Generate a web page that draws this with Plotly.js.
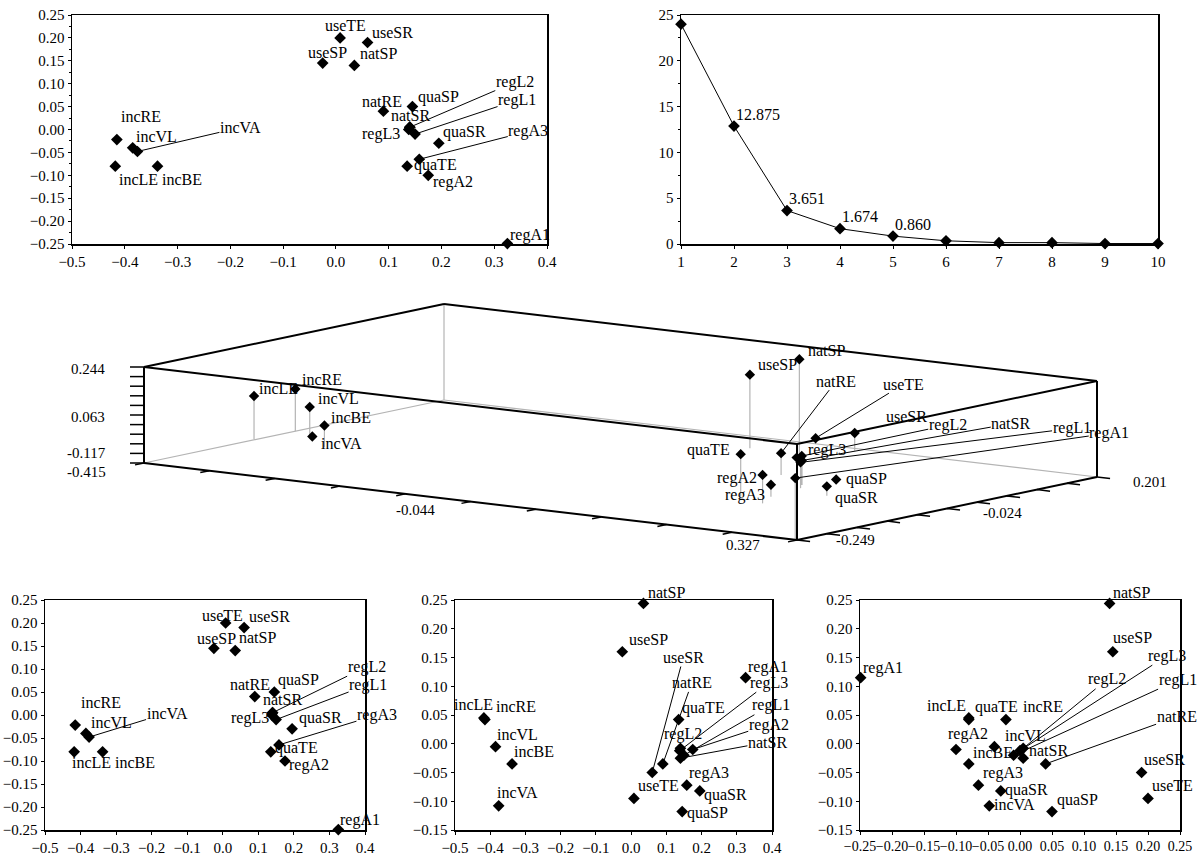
<!DOCTYPE html>
<html>
<head>
<meta charset="utf-8">
<script src="https://cdn.plot.ly/plotly-3.0.1.min.js"></script>
<style>html,body{margin:0;padding:0;background:#fff}#chart{width:1200px;height:856px}</style>
</head>
<body>
<div id="chart"></div>
<script>
// ---------------- DATA ----------------
const names = ['incRE','incVL','incVA','incLE','incBE','useTE','useSR','useSP','natSP','natRE','natSR','quaSP','quaSR','quaTE','regL1','regL2','regL3','regA1','regA2','regA3'];
const dim1 = [-0.415,-0.385,-0.376,-0.418,-0.338, 0.008,0.060,-0.025,0.035,0.090,0.140,0.145,0.195,0.135,0.150,0.140,0.138,0.325,0.175,0.158];
const dim2 = [-0.022,-0.040,-0.048,-0.080,-0.080, 0.200,0.190,0.145,0.140,0.040,0.005,0.050,-0.030,-0.080,-0.010,0.005,0.000,-0.249,-0.100,-0.065];
const dim3 = [0.042,-0.005,-0.108,0.045,-0.035,-0.095,-0.050,0.160,0.244,-0.035,-0.025,-0.118,-0.082,0.042,-0.020,-0.008,-0.012,0.115,-0.010,-0.072];

const components = [1,2,3,4,5,6,7,8,9,10];
const eigenvalues = [24.0,12.875,3.651,1.674,0.860,0.35,0.15,0.15,0.05,0.05];
const eigenLabels = ['','12.875','3.651','1.674','0.860','','','','',''];

const d1Ticks = [-0.415,-0.044,0.327];
const d2Ticks = [-0.249,-0.024,0.201];
const d3Ticks = [-0.117,0.063,0.244];

// ---------------- STYLE / LAYOUT CONFIG ----------------
const FONT = {family:'Liberation Serif, Times New Roman, serif', size:16, color:'#000'};
const TFONT = {family:'Liberation Serif, Times New Roman, serif', size:15, color:'#000'};
const BOX = {ox:144, oy:463, X:[653,77], Y:[300,-63], Z:[0,-96]};

// label offsets [dx, dy(px, down positive), leader]
const offTL = {useTE:[5,-12],useSR:[25,-10],useSP:[5,-11],natSP:[24,-12],natRE:[-1,-10],quaSP:[26,-10],natSR:[1,-12],regL3:[-28,4],
  regL2:[105,-45,1],regL1:[102,-34,1],regA3:[109,-28,1],quaSR:[26,-11],quaTE:[28,-1],regA2:[25,7],regA1:[23,-9],
  incRE:[24,-23],incVL:[24,-11],incVA:[103,-24,1],incLE:[23,13],incBE:[24,13]};
const offBL = {regL2:[94,-46,1],regL1:[92,-35,1],regA3:[98,-30,1],regA1:[22,-10],quaSP:[24,-12],natRE:[-5,-12],natSR:[10,-13],regL3:[-22,3],
  quaSR:[28,-11],quaTE:[26,-4],regA2:[24,4],useTE:[-3,-8],useSR:[25,-11],useSP:[3,-10],natSP:[22,-13],
  incRE:[26,-23],incVL:[26,-11],incVA:[78,-24,1],incLE:[17,11],incBE:[32,11]};
const offBM = {natSP:[23,-11],useSP:[26,-12],useSR:[31,-115,1],natRE:[29,-81,1],regA1:[22,-11],regL3:[89,-68,1],regL1:[87,-50,1],
  regA2:[76,-25,1],natSR:[87,-16,1],quaTE:[25,-12],regL2:[3,-14],regA3:[22,-12],quaSR:[26,4],quaSP:[25,1],useTE:[25,-13],
  incLE:[-10,-13],incRE:[31,-13],incVL:[22,-12],incBE:[22,-12],incVA:[19,-13]};
const offBR = {natSP:[22,-11],useSP:[20,-14],regA1:[22,-10],regL3:[147,-95,1],regL2:[84,-69,1],regL1:[164,-75,1],natRE:[131,-47,1],
  useSR:[23,-13],useTE:[24,-13],incLE:[-22,-12],quaTE:[28,-13],incRE:[37,-13],regA2:[12,-16],incVL:[31,-11],incBE:[24,-11],
  natSR:[25,-8],regA3:[25,-12],quaSR:[26,-1],incVA:[25,-1],quaSP:[25,-12]};
const off3D = {incLE:[24,-7],incRE:[27,-9],incVL:[29,-9],incBE:[27,-8],incVA:[29,7],useSP:[28,-10],natSP:[27,-9],quaTE:[-32,-4],
  regA2:[-26,3],regA3:[-26,10],natRE:[55,-72,1],useTE:[88,-54,1],useSR:[52,-17],regL2:[146,-31,1],natSR:[209,-37,1],
  regL1:[271,-34,1],regA1:[314,-45,1],regL3:[30,-8],quaSP:[30,-1],quaSR:[30,12]};

// ---------------- HELPERS ----------------
function proj(a,b,c){
  const fx=(a-d1Ticks[0])/(d1Ticks[2]-d1Ticks[0]);
  const fy=(b-d2Ticks[0])/(d2Ticks[2]-d2Ticks[0]);
  const fz=(c-d3Ticks[0])/(d3Ticks[2]-d3Ticks[0]);
  return [BOX.ox+BOX.X[0]*fx+BOX.Y[0]*fy+BOX.Z[0]*fz, BOX.oy+BOX.X[1]*fx+BOX.Y[1]*fy+BOX.Z[1]*fz];
}
function labels(xref,yref,xs,ys,offs){
  return names.map((n,i)=>{
    const o=offs[n]||[20,-10];
    if(o[2]){
      return {xref,yref,x:xs[i],y:ys[i],text:n,showarrow:true,ax:o[0],ay:o[1],arrowhead:0,arrowwidth:1,
        arrowcolor:'#000',standoff:0,startstandoff:0,font:FONT,borderpad:0};
    }
    return {xref,yref,x:xs[i],y:ys[i],text:n,showarrow:false,xshift:o[0],yshift:-o[1],font:FONT};
  });
}
function dia(xa,ya,xs,ys){
  return {type:'scatter',mode:'markers',x:xs,y:ys,xaxis:xa,yaxis:ya,cliponaxis:false,hoverinfo:'skip',
    marker:{symbol:'diamond',size:9,color:'#000'}};
}

// ---------------- TRACES ----------------
const traces=[];
traces.push(dia('x','y',dim1,dim2));
traces.push({type:'scatter',mode:'lines+markers',x:components,y:eigenvalues,xaxis:'x2',yaxis:'y2',cliponaxis:false,
  line:{color:'#000',width:1},marker:{symbol:'diamond',size:9,color:'#000'},hoverinfo:'skip'});
traces.push(dia('x3','y3',dim1,dim2));
traces.push(dia('x4','y4',dim1,dim3));
traces.push(dia('x5','y5',dim2,dim3));

// 3D projected panel
const xmn=d1Ticks[0],xmx=d1Ticks[2],ymn=d2Ticks[0],ymx=d2Ticks[2],zmn=d3Ticks[0],zmx=d3Ticks[2];
function seg(list,p,q){list.x.push(p[0],q[0],null);list.y.push(p[1],q[1],null);}
const C={A:proj(xmn,ymn,zmx),B:proj(xmn,ymn,zmn),Cc:proj(xmn,ymx,zmx),D:proj(xmx,ymx,zmx),E:proj(xmx,ymn,zmx),
  F:proj(xmx,ymn,zmn),G:proj(xmx,ymx,zmn),H:proj(xmn,ymx,zmn)};
const grey={x:[],y:[]}, blk={x:[],y:[]}, tk={x:[],y:[]}, drops={x:[],y:[]};
seg(grey,C.B,C.H);seg(grey,C.H,C.G);seg(grey,C.Cc,C.H);
[['A','B'],['A','Cc'],['Cc','D'],['A','E'],['E','D'],['B','F'],['F','G'],['D','G'],['E','F']].forEach(p=>seg(blk,C[p[0]],C[p[1]]));
for(let k=0;k<=10;k++){
  const z=zmn+(zmx-zmn)*k/10; const p=proj(xmn,ymn,z); seg(tk,p,[p[0]-14,p[1]]);
  const a=xmn+(xmx-xmn)*k/10; const q=proj(a,ymn,zmn); const q2=proj(a,ymn-0.03*(ymx-ymn),zmn); seg(tk,q,q2);
  const b=ymn+(ymx-ymn)*k/10; const r=proj(xmx,b,zmn); const r2=proj(xmx+0.02*(xmx-xmn),b,zmn); seg(tk,r,r2);
}
const px=[],py=[];
names.forEach((n,i)=>{const p=proj(dim1[i],dim2[i],dim3[i]);const b=proj(dim1[i],dim2[i],zmn);px.push(p[0]);py.push(p[1]);seg(drops,p,b);});
traces.push({type:'scatter',mode:'lines',x:grey.x,y:grey.y,xaxis:'x6',yaxis:'y6',line:{color:'#b4b4b4',width:1.2},hoverinfo:'skip'});
traces.push({type:'scatter',mode:'lines',x:drops.x,y:drops.y,xaxis:'x6',yaxis:'y6',line:{color:'#b4b4b4',width:1.2},hoverinfo:'skip'});
traces.push({type:'scatter',mode:'lines',x:blk.x,y:blk.y,xaxis:'x6',yaxis:'y6',line:{color:'#000',width:2},hoverinfo:'skip'});
traces.push({type:'scatter',mode:'lines',x:tk.x,y:tk.y,xaxis:'x6',yaxis:'y6',line:{color:'#000',width:1.5},hoverinfo:'skip'});
traces.push({type:'scatter',mode:'markers',x:px,y:py,xaxis:'x6',yaxis:'y6',cliponaxis:false,hoverinfo:'skip',
  marker:{symbol:'diamond',size:8,color:'#000'}});

// ---------------- ANNOTATIONS ----------------
let ann=[];
ann=ann.concat(labels('x','y',dim1,dim2,offTL));
ann=ann.concat(labels('x3','y3',dim1,dim2,offBL));
ann=ann.concat(labels('x4','y4',dim1,dim3,offBM));
ann=ann.concat(labels('x5','y5',dim2,dim3,offBR));
ann=ann.concat(labels('x6','y6',px,py,off3D));
components.forEach((c,i)=>{ if(eigenLabels[i]) ann.push({xref:'x2',yref:'y2',x:c,y:eigenvalues[i],text:eigenLabels[i],showarrow:false,
  xanchor:'left',yanchor:'middle',xshift:0,yshift:12,font:FONT}); });
// 3D axis value labels
function axLab(p,text,dx,dy){ann.push({xref:'x6',yref:'y6',x:p[0],y:p[1],text:text,showarrow:false,xshift:dx,yshift:-dy,font:TFONT});}
const fmt=v=>v.toFixed(3);
axLab(proj(xmn,ymn,d3Ticks[2]),fmt(d3Ticks[2]),-56,2);
axLab(proj(xmn,ymn,d3Ticks[1]),fmt(d3Ticks[1]),-56,2);
axLab(proj(xmn,ymn,d3Ticks[0]),fmt(d3Ticks[0]),-58,-10);
axLab(proj(d1Ticks[0],ymn,zmn),fmt(d1Ticks[0]),-58,9);
axLab(proj(d1Ticks[1],ymn,zmn),fmt(d1Ticks[1]),-55,8);
axLab(proj(d1Ticks[2],ymn,zmn),fmt(d1Ticks[2]),-54,5);
axLab(proj(xmx,d2Ticks[0],zmn),fmt(d2Ticks[0]),58,0);
axLab(proj(xmx,d2Ticks[1],zmn),fmt(d2Ticks[1]),55,4);
axLab(proj(xmx,d2Ticks[2],zmn),fmt(d2Ticks[2]),53,5);

// ---------------- LAYOUT ----------------
function ax(domain,range,dtick,fmt,extra){
  return Object.assign({domain,range,dtick,tickformat:fmt,showline:true,mirror:true,linecolor:'#000',linewidth:1.5,
    ticks:'outside',ticklen:3,tickcolor:'#000',showgrid:false,zeroline:false,tickfont:TFONT,tickangle:0,fixedrange:true},extra||{});
}
const H=856,W=1200;
const yTop=[(H-244)/H,(H-15)/H], yBot=[(H-830)/H,(H-600)/H];
const layout={
  width:W,height:H,margin:{l:0,r:0,t:0,b:0},paper_bgcolor:'#fff',plot_bgcolor:'rgba(0,0,0,0)',showlegend:false,font:FONT,
  xaxis:ax([72/W,547/W],[-0.5,0.4],0.1,'.1f',{anchor:'y'}),
  yaxis:ax(yTop,[-0.25,0.25],0.05,'.2f',{anchor:'x',minor:{ticks:'outside',ticklen:2,dtick:0.025,tickcolor:'#000'}}),
  xaxis2:ax([681/W,1158/W],[1,10],1,'d',{anchor:'y2'}),
  yaxis2:ax(yTop,[0,25],5,'d',{anchor:'x2',minor:{ticks:'outside',ticklen:2,dtick:2.5,tickcolor:'#000'}}),
  xaxis3:ax([45/W,365/W],[-0.5,0.4],0.1,'.1f',{anchor:'y3'}),
  yaxis3:ax(yBot,[-0.25,0.25],0.05,'.2f',{anchor:'x3'}),
  xaxis4:ax([455/W,772/W],[-0.5,0.4],0.1,'.1f',{anchor:'y4'}),
  yaxis4:ax(yBot,[-0.15,0.25],0.05,'.2f',{anchor:'x4'}),
  xaxis5:ax([860/W,1180/W],[-0.25,0.25],0.05,'.2f',{anchor:'y5',tickfont:{family:TFONT.family,size:14,color:'#000'}}),
  yaxis5:ax(yBot,[-0.15,0.25],0.05,'.2f',{anchor:'x5'}),
  xaxis6:{domain:[0,1],range:[0,W],visible:false,fixedrange:true,anchor:'y6'},
  yaxis6:{domain:[(H-560)/H,(H-280)/H],range:[560,280],visible:false,fixedrange:true,anchor:'x6'},
  annotations:ann
};
Plotly.newPlot('chart',traces,layout,{staticPlot:true,displayModeBar:false});
</script>
</body>
</html>
